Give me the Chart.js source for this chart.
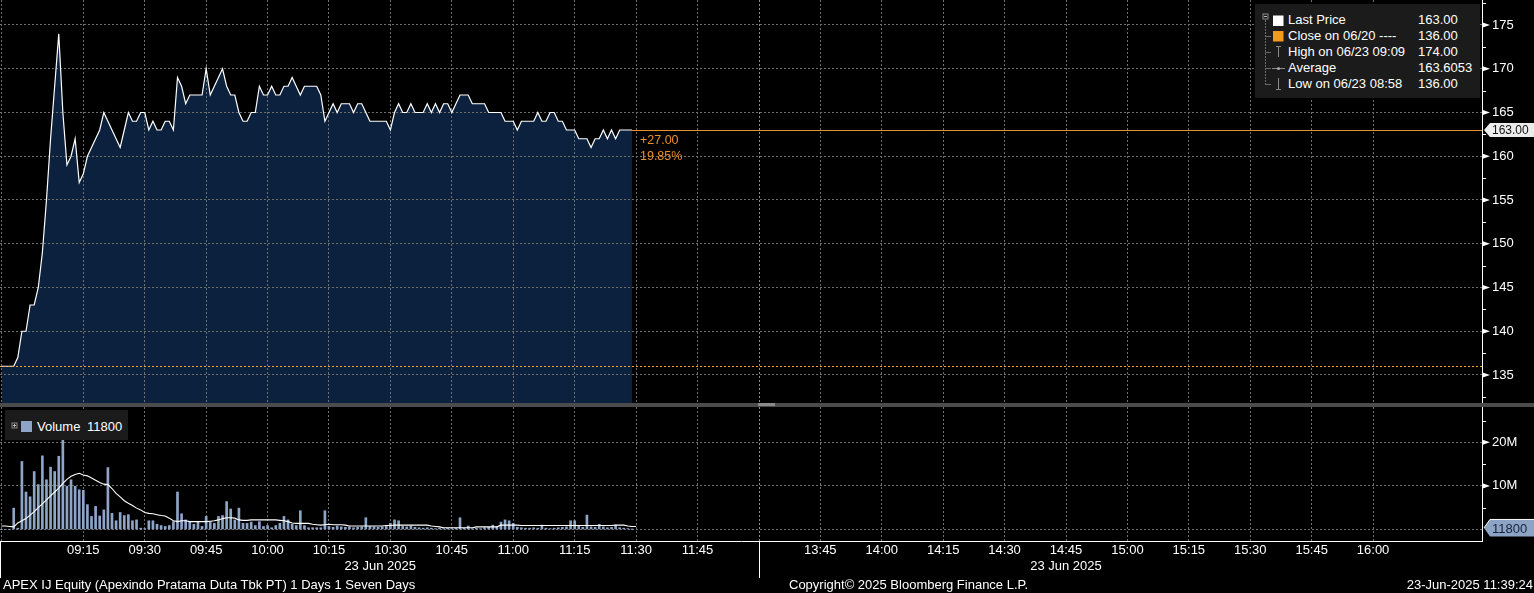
<!DOCTYPE html>
<html>
<head>
<meta charset="utf-8">
<script src="https://cdn.jsdelivr.net/npm/chart.js@4.4.1/dist/chart.umd.min.js"></script>
<style>
html,body{margin:0;padding:0;background:#000;width:1534px;height:593px;overflow:hidden;font-family:"Liberation Sans",Arial,sans-serif;color:#fff}
canvas{position:absolute;left:0;display:block}
#pc{top:0}
#vc{top:407px}
.sep{position:absolute;left:0;top:403px;width:1534px;height:4px;background:#4b4b4b}
.handle{position:absolute;left:758px;top:403px;width:17px;height:3px;background:#8a8a8a}
.box{position:absolute;background:#1b1b1b}
.t{position:absolute;font-size:13px;line-height:16px;white-space:pre;color:#fff}
.foot{position:absolute;top:577px;font-size:13px;line-height:15px;white-space:pre;color:#fff}
</style>
</head>
<body>
<canvas id="pc" width="1534" height="403"></canvas>
<canvas id="vc" width="1534" height="171"></canvas>
<div class="sep"></div>
<div class="handle"></div>

<div class="box" style="left:1255px;top:4px;width:225px;height:94px">
  <svg width="225" height="94" style="position:absolute;left:0;top:0">
    <line x1="10.5" y1="16" x2="10.5" y2="81" stroke="#6a6a6a" stroke-dasharray="2,1"/>
    <line x1="10.5" y1="32.5" x2="16" y2="32.5" stroke="#6a6a6a"/>
    <line x1="10.5" y1="48.5" x2="16" y2="48.5" stroke="#6a6a6a"/>
    <line x1="10.5" y1="64.5" x2="16" y2="64.5" stroke="#6a6a6a"/>
    <line x1="10.5" y1="80.5" x2="16" y2="80.5" stroke="#6a6a6a"/>
    <rect x="8" y="10" width="5" height="5" fill="#1b1b1b" stroke="#8a8a8a"/>
    <line x1="9" y1="12.5" x2="12" y2="12.5" stroke="#bbb"/>
    <rect x="18" y="11.5" width="10.5" height="10.5" fill="#ffffff"/>
    <rect x="18" y="27" width="10.5" height="10.5" fill="#f39a1e"/>
    <line x1="21" y1="42.5" x2="26" y2="42.5" stroke="#8a8a8a"/>
    <line x1="23.5" y1="42.5" x2="23.5" y2="53" stroke="#8a8a8a"/>
    <line x1="17" y1="64.5" x2="30" y2="64.5" stroke="#8a8a8a"/>
    <circle cx="23.5" cy="64.5" r="1.5" fill="#aaa"/>
    <line x1="23.5" y1="74" x2="23.5" y2="85" stroke="#8a8a8a"/>
    <line x1="21" y1="85.5" x2="26" y2="85.5" stroke="#8a8a8a"/>
  </svg>
  <div class="t" style="left:33px;top:8px">Last Price</div>
  <div class="t" style="left:163px;top:8px">163.00</div>
  <div class="t" style="left:33px;top:24px">Close on 06/20 ----</div>
  <div class="t" style="left:163px;top:24px">136.00</div>
  <div class="t" style="left:33px;top:40px">High on 06/23 09:09</div>
  <div class="t" style="left:163px;top:40px">174.00</div>
  <div class="t" style="left:33px;top:56px">Average</div>
  <div class="t" style="left:163px;top:56px">163.6053</div>
  <div class="t" style="left:33px;top:72px">Low on 06/23 08:58</div>
  <div class="t" style="left:163px;top:72px">136.00</div>
</div>

<div class="box" style="left:5px;top:410px;width:123px;height:30px">
  <svg width="123" height="30" style="position:absolute;left:0;top:0">
    <rect x="7" y="13" width="5" height="5" fill="#1b1b1b" stroke="#8a8a8a"/>
    <line x1="8" y1="15.5" x2="11" y2="15.5" stroke="#bbb"/>
    <line x1="9.5" y1="14" x2="9.5" y2="17" stroke="#bbb"/>
    <rect x="16" y="11" width="11" height="11" fill="#8ea5c7"/>
  </svg>
  <div class="t" style="left:32px;top:9px">Volume</div>
  <div class="t" style="left:82px;top:9px">11800</div>
</div>

<div class="foot" style="left:3px">APEX IJ Equity (Apexindo Pratama Duta Tbk PT) 1 Days 1 Seven Days</div>
<div class="foot" style="left:789px">Copyright© 2025 Bloomberg Finance L.P.</div>
<div class="foot" style="right:1px">23-Jun-2025 11:39:24</div>

<script>
// ---------------- data ----------------
const startTime = '08:55';
const prevClose = 136;
const price = [
  136,136,136,
  136,137,140,140,143,143,145,149,155,162,168,174,
  165,159,160,162,157,158,160,161,162,163,165,164,163,162,161,163,165,164,164,165,165,163,164,163,163,164,164,163,
  169,168,166,167,167,167,167,170,167,168,169,170,168,167,167,165,164,164,165,165,
  168,167,167,168,167,167,168,168,169,168,167,168,168,168,168,167,
  164,165,166,165,166,166,166,165,166,166,165,164,164,164,164,164,163,165,166,165,165,166,165,165,165,166,165,166,165,166,166,165,166,
  167,167,167,166,166,166,166,165,165,165,165,164,164,164,163,164,164,164,164,165,164,164,165,165,164,164,
  163,163,163,162,162,162,161,162,162,163,162,163,162,163,163,163,163
];
const volumeM = [
  0,0,0,
  4.9,0.3,15.6,8.6,7.5,13.3,10.3,16.9,11.4,14.3,13.3,16.8,
  23.5,9.9,11.4,9.9,9.1,9.0,5.7,3.0,5.3,3.1,4.5,14.2,3.7,2.0,3.9,3.2,3.4,2.0,2.2,0.3,0.2,2.0,2.0,1.2,0.9,0.7,0.9,1.8,
  8.6,3.6,2.2,1.8,1.2,1.7,0.7,3.0,1.7,1.4,3.0,3.2,6.4,4.7,2.2,4.9,1.4,1.4,1.7,0.9,
  1.8,0.7,0.9,0.4,0.9,1.4,3.0,2.2,1.2,0.9,4.3,0.9,0.4,0.4,0.4,0.4,
  4.3,0.7,0.5,0.8,0.6,0.5,0.6,0.4,0.5,0.6,2.7,0.7,0.6,0.5,0.6,0.7,1.4,2.2,2.0,0.7,0.6,0.8,0.5,0.4,0.3,0.4,0.3,0.2,0.3,0.2,0.3,0.2,0.3,
  2.7,0.3,0.8,0.2,0.3,0.2,0.4,0.5,1.0,0.6,1.7,2.2,2.0,1.4,0.5,0.4,0.3,0.3,0.4,0.3,1.0,0.3,0.2,0.3,0.4,0.5,
  0.6,2.0,2.0,0.7,0.5,3.3,0.6,0.5,1.2,0.6,0.4,0.5,1.0,0.4,0.3,0.2,0.0118
];
const volumeAvgM = [
  0.8,0.8,0.7,
  0.6,1.5,2.0,2.5,3.3,4.1,5.0,5.9,6.8,7.7,8.6,9.5,
  10.6,11.5,12.2,12.6,12.9,12.5,12.3,11.8,11.3,10.8,10.4,10.3,9.4,8.3,7.5,6.6,6.0,5.5,4.9,4.5,3.9,3.7,3.6,3.4,3.2,3.1,2.6,2.0,
  1.8,2.0,2.0,1.8,1.8,1.8,1.8,1.8,1.9,2.0,2.2,2.5,2.7,2.7,2.6,2.2,2.1,2.1,2.2,2.2,
  2.2,2.2,2.2,2.2,2.2,2.1,2.0,1.8,1.5,1.4,1.4,1.4,1.4,1.2,1.1,1.0,
  1.1,1.2,1.1,1.1,1.1,1.0,0.8,0.8,0.8,0.8,0.8,0.8,0.8,0.8,0.8,0.9,0.9,1.0,1.0,1.0,1.0,1.0,1.0,1.0,1.0,1.0,0.8,0.7,0.6,0.4,0.4,0.4,0.4,0.4,
  0.4,0.4,0.4,0.6,0.6,0.6,0.6,0.6,0.6,1.0,1.0,1.0,1.0,1.0,0.9,0.9,0.9,0.9,0.9,0.9,0.9,0.9,0.9,0.9,0.9,0.9,
  0.9,0.9,0.9,0.9,0.9,0.9,0.9,0.9,0.9,0.9,0.9,1.0,1.0,1.0,0.8,0.7,0.7
];
const tickTimes = ['09:15','09:30','09:45','10:00','10:15','10:30','10:45','11:00','11:15','11:30','11:45',
                   '13:45','14:00','14:15','14:30','14:45','15:00','15:15','15:30','15:45','16:00'];
const sessionEdges = ['08:55','12:00','13:30','16:00'];
const dateLabel = '23 Jun 2025';
const priceTicks = [135,140,145,150,155,160,165,170,175];
const priceMinorTicks = [132.5,137.5,142.5,147.5,152.5,157.5,162.5,167.5,172.5,177.5];
const volumeTicks = [0,10,20];
const volumeMinorTicks = [5,15,25];

// axis ranges
const X_MIN = -5.35, X_MAX = 356.6;
const P_MIN = 131.8, P_MAX = 177.857;
const V_MIN = -2.64, V_MAX = 28.1;

// ---------------- helpers ----------------
function toX(hm){ const [h,m]=hm.split(':').map(Number); let t=(h-9)*60+m; if(t>=270) t-=90; return t; }
const x0 = toX(startTime);
const pricePts = price.map((p,i)=>({x:x0+i,y:p}));
const volPts = volumeM.map((v,i)=>({x:x0+i,y:v}));
const volAvgPts = volumeAvgM.map((v,i)=>({x:x0+i,y:v}));
const tickVals = tickTimes.map(toX);
const tickLabelMap = {}; tickTimes.forEach(t=>{tickLabelMap[toX(t)]=t;});
const FONT = '"Liberation Sans", Arial, sans-serif';
const GRID = '#6f6f6f';
const ORANGE = '#e8912c';

function xScaleCommon(showLabels){
  return {
    type:'linear', min:X_MIN, max:X_MAX, offset:false,
    afterBuildTicks:s=>{ s.ticks = tickVals.map(v=>({value:v})); },
    afterFit:s=>{ s.height = showLabels?37:0; s.paddingLeft=0; s.paddingRight=0; },
    ticks:{display:showLabels, autoSkip:false, maxRotation:0, minRotation:0, padding:2,
      color:'#ffffff', font:{family:FONT,size:13}, callback:v=>tickLabelMap[v]||''},
    grid:{color:GRID, lineWidth:1, drawTicks:false, offset:false},
    border:{display:showLabels, color:'#ffffff', width:1, dash:[2,2]}
  };
}
function yAfterFit(s){ s.width=52; s.paddingTop=0; s.paddingBottom=0; }

function drawAxisMarks(ctx, chart, major, minor){
  const sy = chart.scales.y; const R = chart.chartArea.right;
  ctx.save();
  ctx.fillStyle='#ffffff'; ctx.strokeStyle='#ffffff'; ctx.lineWidth=1;
  major.forEach(v=>{ const y=sy.getPixelForValue(v); if(y<chart.chartArea.top-1||y>chart.chartArea.bottom+1) return;
    ctx.beginPath(); ctx.moveTo(R,y-2.8); ctx.lineTo(R+8,y); ctx.lineTo(R,y+2.8); ctx.closePath(); ctx.fill(); });
  minor.forEach(v=>{ const y=Math.round(sy.getPixelForValue(v))+0.5; if(y<chart.chartArea.top-1||y>chart.chartArea.bottom+1) return;
    ctx.beginPath(); ctx.moveTo(R,y); ctx.lineTo(R+4,y); ctx.stroke(); });
  ctx.restore();
}
function drawBreak(ctx, chart){
  const sx = chart.scales.x; const a = chart.chartArea;
  ctx.save(); ctx.strokeStyle='#8c8c8c'; ctx.lineWidth=1; ctx.setLineDash([2,2]);
  const xb = Math.round(sx.getPixelForValue(toX('12:00')))+0.5;
  ctx.beginPath(); ctx.moveTo(xb,a.top); ctx.lineTo(xb,a.bottom); ctx.stroke();
  ctx.strokeStyle=GRID;
  ctx.beginPath(); ctx.moveTo(a.left+1.5,a.top); ctx.lineTo(a.left+1.5,a.bottom); ctx.stroke();
  ctx.restore();
}

// ---------------- price chart ----------------
const pricePlugin = {
  id:'pricePlugin',
  afterDatasetsDraw(chart){
    const ctx=chart.ctx, a=chart.chartArea, sx=chart.scales.x, sy=chart.scales.y;
    ctx.save();
    // previous close dotted line
    const yc = Math.round(sy.getPixelForValue(prevClose))+0.5;
    ctx.strokeStyle='#e9a43a'; ctx.lineWidth=1; ctx.setLineDash([2,2]);
    ctx.beginPath(); ctx.moveTo(a.left,yc); ctx.lineTo(a.right,yc); ctx.stroke();
    // last price line
    const last = price[price.length-1];
    const lx = sx.getPixelForValue(x0+price.length-1);
    const yl = Math.round(sy.getPixelForValue(last))+0.5;
    ctx.setLineDash([]); ctx.strokeStyle=ORANGE;
    ctx.beginPath(); ctx.moveTo(lx,yl); ctx.lineTo(a.right,yl); ctx.stroke();
    // change annotation
    const chg = last-prevClose, pct = chg/prevClose*100;
    ctx.fillStyle=ORANGE; ctx.font='12.5px '+FONT; ctx.textBaseline='middle'; ctx.textAlign='left';
    ctx.fillText((chg>=0?'+':'')+chg.toFixed(2), lx+8, yl+10);
    ctx.fillText(pct.toFixed(2)+'%', lx+8, yl+26);
    ctx.restore();
    drawBreak(ctx, chart);
  },
  afterDraw(chart){
    const ctx=chart.ctx, a=chart.chartArea, sy=chart.scales.y;
    drawAxisMarks(ctx, chart, priceTicks, priceMinorTicks);
    const last = price[price.length-1];
    const y = sy.getPixelForValue(last), R=a.right, W=chart.width;
    ctx.save();
    ctx.beginPath(); ctx.moveTo(R+2,y); ctx.lineTo(R+8,y-7); ctx.lineTo(W,y-7); ctx.lineTo(W,y+7); ctx.lineTo(R+8,y+7); ctx.closePath();
    ctx.fillStyle='#ececec'; ctx.fill();
    ctx.fillStyle='#111111'; ctx.font='12px '+FONT; ctx.textBaseline='middle'; ctx.textAlign='left';
    ctx.fillText(last.toFixed(2), R+10, y+0.5);
    ctx.restore();
  }
};

new Chart(document.getElementById('pc'), {
  type:'line',
  data:{datasets:[{data:pricePts, borderColor:'#ffffff', borderWidth:1.2, backgroundColor:'#0b213e',
    fill:'start', pointRadius:0, tension:0}]},
  options:{
    responsive:false, animation:false, events:[],
    layout:{padding:0},
    plugins:{legend:{display:false}, tooltip:{enabled:false}, filler:{drawTime:'beforeDraw'}},
    scales:{
      x: xScaleCommon(false),
      y:{position:'right', min:P_MIN, max:P_MAX,
        afterBuildTicks:s=>{ s.ticks = priceTicks.map(v=>({value:v})); },
        afterFit:yAfterFit,
        ticks:{color:'#ffffff', font:{family:FONT,size:13}, padding:10, callback:v=>String(v)},
        grid:{color:GRID, lineWidth:1, drawTicks:false},
        border:{display:true, color:'#ffffff', width:1, dash:[2,2]}}
    }
  },
  plugins:[pricePlugin]
});

// ---------------- volume chart ----------------
const volPlugin = {
  id:'volPlugin',
  afterDatasetsDraw(chart){ drawBreak(chart.ctx, chart); },
  afterDraw(chart){
    const ctx=chart.ctx, a=chart.chartArea, sx=chart.scales.x, sy=chart.scales.y;
    drawAxisMarks(ctx, chart, volumeTicks.filter(v=>v>0), volumeMinorTicks);
    ctx.save();
    // white separators in label area
    ctx.strokeStyle='#ffffff'; ctx.lineWidth=1;
    const xb = Math.round(sx.getPixelForValue(toX('12:00')))+0.5;
    [a.left+0.5, xb].forEach(x=>{ ctx.beginPath(); ctx.moveTo(x,a.bottom); ctx.lineTo(x,chart.height); ctx.stroke(); });
    // date labels centred in each session
    ctx.fillStyle='#ffffff'; ctx.font='13px '+FONT; ctx.textAlign='center'; ctx.textBaseline='middle';
    for(let i=0;i<sessionEdges.length;i+=2){
      const xa = Math.max(a.left, sx.getPixelForValue(toX(sessionEdges[i])));
      const xe = sx.getPixelForValue(toX(sessionEdges[i+1]));
      ctx.fillText(dateLabel, (xa+xe)/2, a.bottom+25);
    }
    // last volume tag
    const lastV = volumeM[volumeM.length-1];
    const y = sy.getPixelForValue(lastV)-1.5, R=a.right, W=chart.width;
    ctx.beginPath(); ctx.moveTo(R+2,y); ctx.lineTo(R+8,y-8.5); ctx.lineTo(W,y-8.5); ctx.lineTo(W,y+8.5); ctx.lineTo(R+8,y+8.5); ctx.closePath();
    ctx.fillStyle='#8da4c4'; ctx.fill();
    ctx.strokeStyle='#ffffff'; ctx.beginPath(); ctx.moveTo(R+2,y); ctx.lineTo(R+8,y-8.5); ctx.lineTo(W,y-8.5); ctx.stroke();
    ctx.fillStyle='#15233a'; ctx.font='13px '+FONT; ctx.textAlign='left';
    ctx.fillText(String(Math.round(lastV*1e6)), R+10, y+1);
    ctx.restore();
  }
};

new Chart(document.getElementById('vc'), {
  type:'bar',
  data:{datasets:[
    {type:'line', data:volAvgPts, borderColor:'#ffffff', borderWidth:1.1, pointRadius:0, tension:0, fill:false, order:0},
    {type:'bar', data:volPts, backgroundColor:'#8ea5c7', barThickness:2, grouped:false, order:1}
  ]},
  options:{
    responsive:false, animation:false, events:[],
    layout:{padding:0},
    plugins:{legend:{display:false}, tooltip:{enabled:false}},
    scales:{
      x: xScaleCommon(true),
      y:{position:'right', min:V_MIN, max:V_MAX,
        afterBuildTicks:s=>{ s.ticks = volumeTicks.map(v=>({value:v})); },
        afterFit:yAfterFit,
        ticks:{color:'#ffffff', font:{family:FONT,size:13}, padding:10, callback:v=> v===0?'':v+'M'},
        grid:{color:GRID, lineWidth:1, drawTicks:false},
        border:{display:true, color:'#ffffff', width:1, dash:[2,2]}}
    }
  },
  plugins:[volPlugin]
});
</script>
</body>
</html>
